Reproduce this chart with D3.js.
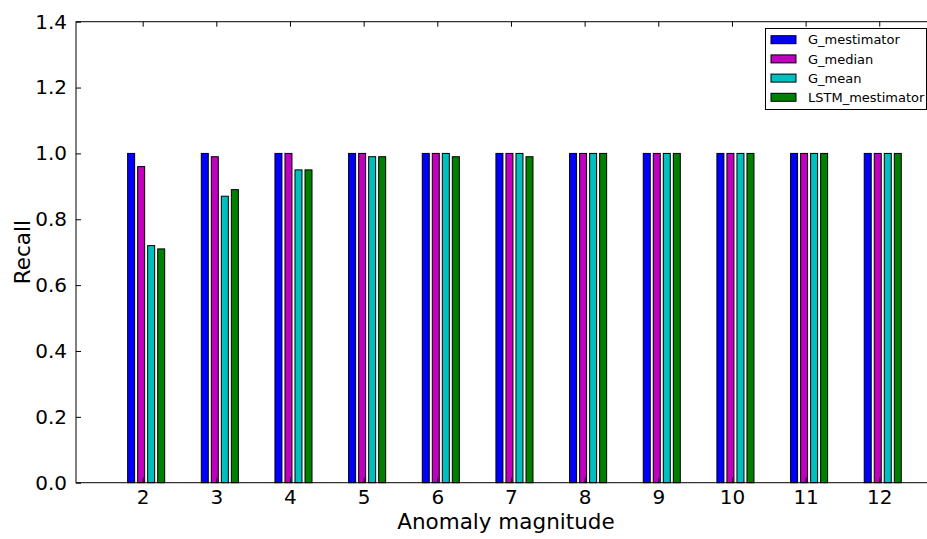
<!DOCTYPE html>
<html>
<head>
<meta charset="utf-8">
<script src="https://cdn.jsdelivr.net/npm/d3@7"></script>
<style>
  html, body { margin: 0; padding: 0; background: #fff; }
  svg { display: block; font-family: "DejaVu Sans", sans-serif; }
</style>
</head>
<body>
<svg id="chart" width="927" height="539"></svg>
<script>
// Anomaly magnitudes on the x axis
const magnitudes = [2, 3, 4, 5, 6, 7, 8, 9, 10, 11, 12];

// Recall per detector
const gMestimator    = [1.00, 1.00, 1.00, 1.00, 1.00, 1.00, 1.00, 1.00, 1.00, 1.00, 1.00];
const gMedian        = [0.96, 0.99, 1.00, 1.00, 1.00, 1.00, 1.00, 1.00, 1.00, 1.00, 1.00];
const gMean          = [0.72, 0.87, 0.95, 0.99, 1.00, 1.00, 1.00, 1.00, 1.00, 1.00, 1.00];
const lstmMestimator = [0.71, 0.89, 0.95, 0.99, 0.99, 0.99, 1.00, 1.00, 1.00, 1.00, 1.00];

const seriesNames  = ["G_mestimator", "G_median", "G_mean", "LSTM_mestimator"];
const seriesColors = ["#0000ff", "#bf00bf", "#00bfbf", "#008000"];
const seriesValues = [gMestimator, gMedian, gMean, lstmMestimator];

const yTicks = [0, 0.2, 0.4, 0.6, 0.8, 1.0, 1.2, 1.4];

// Layout
const plot = { left: 76, top: 21.7, bottom: 482.7 };
const barWidth = 0.095;
const barStep = 0.136;

const svg = d3.select("#chart");

const x = d3.scaleLinear().domain([1.095, 12.905]).range([plot.left, plot.left + 11.81 * 73.66]);
const y = d3.scaleLinear().domain([0, 1.4]).range([plot.bottom, plot.top]);
const right = x.range()[1];

// Bars: left edge of each bar sits at magnitude + offset
const barData = [];
seriesValues.forEach((vals, s) => {
  vals.forEach((v, i) => {
    barData.push({ s, m: magnitudes[i], v });
  });
});

svg.append("g")
  .selectAll("rect")
  .data(barData)
  .join("rect")
  .attr("x", d => x(d.m - 1.5 * barStep + d.s * barStep))
  .attr("y", d => y(d.v))
  .attr("width", d => x(barWidth) - x(0))
  .attr("height", d => y(0) - y(d.v))
  .attr("fill", d => seriesColors[d.s])
  .attr("stroke", "#000")
  .attr("stroke-width", 1);

// Axes (ticks point inward)
const yAxisL = d3.axisLeft(y).tickValues(yTicks).tickSize(-5).tickPadding(9).tickFormat(d3.format(".1f"));
const gy = svg.append("g").attr("transform", `translate(${plot.left},0)`).call(yAxisL);
gy.select(".domain").remove();
gy.selectAll("text").attr("font-size", 20).attr("font-family", "DejaVu Sans").attr("fill", "#000");

const xAxisB = d3.axisBottom(x).tickValues(magnitudes).tickSize(-5).tickPadding(7).tickFormat(d3.format("d"));
const gx = svg.append("g").attr("transform", `translate(0,${plot.bottom})`).call(xAxisB);
gx.select(".domain").remove();
gx.selectAll("text").attr("font-size", 20).attr("font-family", "DejaVu Sans").attr("fill", "#000");

const xAxisT = d3.axisTop(x).tickValues(magnitudes).tickSize(-5).tickFormat("");
const gxt = svg.append("g").attr("transform", `translate(0,${plot.top})`).call(xAxisT);
gxt.select(".domain").remove();

svg.selectAll(".tick line").attr("stroke", "#000");

// Frame
svg.append("rect")
  .attr("x", plot.left).attr("y", plot.top)
  .attr("width", right - plot.left).attr("height", plot.bottom - plot.top)
  .attr("fill", "none").attr("stroke", "#000").attr("stroke-width", 1);

// Axis labels
svg.append("text")
  .attr("x", x(7.0) - 5)
  .attr("y", 529)
  .attr("text-anchor", "middle")
  .attr("font-size", 21.5)
  .text("Anomaly magnitude");

svg.append("text")
  .attr("transform", `translate(29.5,${(plot.top + plot.bottom) / 2}) rotate(-90)`)
  .attr("text-anchor", "middle")
  .attr("font-size", 21.5)
  .text("Recall");

// Legend
const legend = svg.append("g").attr("transform", "translate(765,28)");
legend.append("rect")
  .attr("x", 0.5).attr("y", 0.5).attr("width", 161).attr("height", 81)
  .attr("fill", "#fff").attr("stroke", "#000").attr("stroke-width", 1);

const rows = legend.selectAll("g.row")
  .data(seriesNames)
  .join("g")
  .attr("class", "row")
  .attr("transform", (d, i) => `translate(0,${11.7 + i * 19.2})`);

rows.append("rect")
  .attr("x", 6).attr("y", -4).attr("width", 25).attr("height", 8)
  .attr("fill", (d, i) => seriesColors[i])
  .attr("stroke", "#000").attr("stroke-width", 1);

rows.append("text")
  .attr("x", 43).attr("y", 4.6)
  .attr("font-size", 13)
  .text(d => d);
</script>
</body>
</html>
